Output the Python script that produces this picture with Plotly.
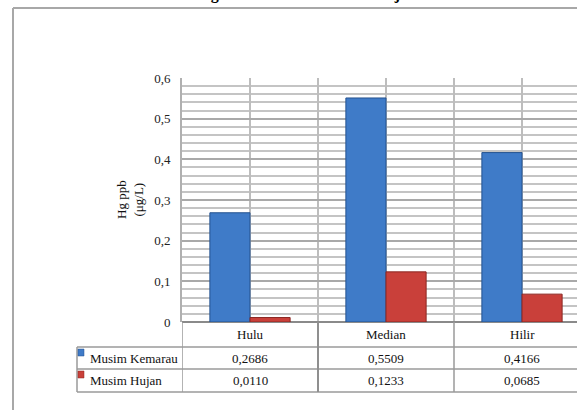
import plotly.graph_objects as go

categories = ["Hulu", "Median", "Hilir"]
kemarau = [0.2686, 0.5509, 0.4166]
hujan = [0.0110, 0.1233, 0.0685]
series_names = ["Musim Kemarau", "Musim Hujan"]
y_ticks = [0, 0.1, 0.2, 0.3, 0.4, 0.5, 0.6]
title_text = "Grafik Hg Musim Kemarau dan Hujan"

W, H = 577, 410
L, T, B = 182, 78, 88
PW = W - L
PH = H - T - B
FONT = "Liberation Serif"

def py(p):  # pixel y -> paper y
    return (H - B - p) / PH

def px(p):  # pixel x -> paper x
    return (p - L) / PW

xs = list(range(len(categories)))
cat_w = 136.0
x_right = -0.5 + PW / cat_w

fig = go.Figure()
fig.add_trace(go.Bar(x=xs, y=kemarau, name=series_names[0],
                     marker=dict(color="#3f7bc8", line=dict(color="#24528f", width=1))))
fig.add_trace(go.Bar(x=xs, y=hujan, name=series_names[1],
                     marker=dict(color="#c9403a", line=dict(color="#8c2722", width=1))))

shapes = []
grid = "#a9a9a9"
tbl = "#9a9a9a"
# outer frame
shapes.append(dict(type="line", xref="paper", yref="paper", x0=px(13), x1=px(W + 5), y0=py(8), y1=py(8),
                   line=dict(color="#a8a8a8", width=2)))
shapes.append(dict(type="line", xref="paper", yref="paper", x0=px(13), x1=px(13), y0=py(8), y1=py(H + 5),
                   line=dict(color="#a8a8a8", width=2)))
# table horizontal lines
for yy, x0p in [(347, 77), (369, 77), (392, 77)]:
    shapes.append(dict(type="line", xref="paper", yref="paper", x0=px(x0p), x1=px(W + 5), y0=py(yy), y1=py(yy),
                       line=dict(color=tbl, width=1.5)))
# legend column vertical line
shapes.append(dict(type="line", xref="paper", yref="paper", x0=px(77), x1=px(77), y0=py(347), y1=py(392),
                   line=dict(color=tbl, width=1.5)))
# category boundaries in table
for xb in [-0.5, 0.5, 1.5]:
    shapes.append(dict(type="line", xref="x", yref="paper", x0=xb, x1=xb, y0=0, y1=py(392),
                       line=dict(color="#8f8f8f" if xb == 0.5 else tbl, width=2 if xb == 0.5 else 1.5)))
# legend swatches
for yy, col, lc in [(353, "#3f7bc8", "#24528f"), (375, "#c9403a", "#8c2722")]:
    shapes.append(dict(type="rect", xref="paper", yref="paper", x0=px(78), x1=px(84), y0=py(yy + 3), y1=py(yy - 4),
                       fillcolor=col, line=dict(color=lc, width=0.5)))

ann = []
# title (mostly cut off at top, as in the reference)
ann.append(dict(text="<b>" + title_text + "</b>", xref="paper", yref="paper", x=px(282), y=py(5),
                xanchor="center", yanchor="bottom", showarrow=False,
                font=dict(family=FONT, size=16, color="#000")))
# y axis title
ann.append(dict(text="Hg ppb<br>(μg/L)", xref="paper", yref="paper", x=px(130), y=py(200),
                xanchor="center", yanchor="middle",
                textangle=-90, showarrow=False, font=dict(family=FONT, size=13, color="#111")))
# table header
for i, c in enumerate(categories):
    ann.append(dict(text=c, xref="x", yref="paper", x=xs[i], y=py(334.5), showarrow=False,
                    xanchor="center", yanchor="middle",
                    font=dict(family=FONT, size=13, color="#111")))
def fmt(v):
    return f"{v:.4f}".replace(".", ",")
for yy, name, vals in [(358, series_names[0], kemarau), (380.5, series_names[1], hujan)]:
    ann.append(dict(text=name, xref="paper", yref="paper", x=px(88), y=py(yy), xanchor="left",
                    yanchor="middle",
                    showarrow=False, font=dict(family=FONT, size=13, color="#111")))
    for i, v in enumerate(vals):
        ann.append(dict(text=fmt(v), xref="x", yref="paper", x=xs[i], y=py(yy), showarrow=False,
                        xanchor="center", yanchor="middle",
                        font=dict(family=FONT, size=13, color="#111")))

fig.update_layout(
    width=W, height=H,
    margin=dict(l=L, r=0, t=T, b=B),
    paper_bgcolor="white", plot_bgcolor="white",
    barmode="group", bargap=0.41, bargroupgap=0,
    showlegend=False,
    separators=", ",
    shapes=shapes, annotations=ann,
    font=dict(family=FONT, size=13, color="#111"),
)
fig.update_xaxes(range=[-0.5, x_right], showticklabels=False, ticks="",
                 showgrid=True, tick0=-0.5, dtick=0.5, gridcolor="#bdbdbd", gridwidth=2,
                 zeroline=False, showline=False)
fig.update_yaxes(range=[0, 0.6], tickvals=y_ticks, ticks="outside", ticklen=7, tickcolor="rgba(0,0,0,0)",
                 showgrid=True, gridcolor=grid, gridwidth=1.5,
                 minor=dict(dtick=0.02, tick0=0, showgrid=True, gridcolor="#c4c4c4", gridwidth=1.5),
                 showline=True, linecolor="#b0b0b0", linewidth=2,
                 zeroline=True, zerolinecolor="#8a8a8a", zerolinewidth=2,
                 tickfont=dict(family=FONT, size=13, color="#222"))

fig.write_html("out.html", config={"displayModeBar": False},
               post_script="document.body.style.margin='0';")
